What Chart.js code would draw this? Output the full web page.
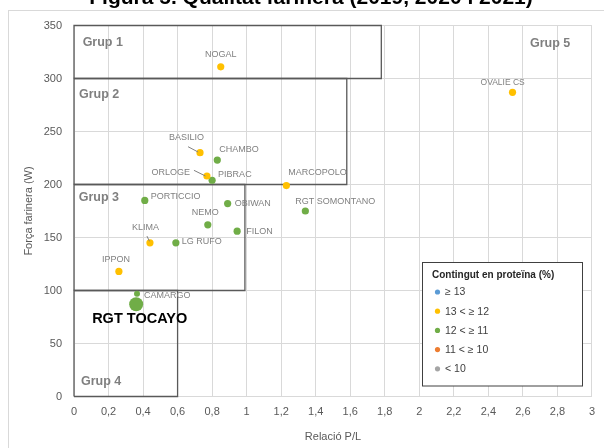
<!DOCTYPE html>
<html><head><meta charset="utf-8">
<script src="https://cdn.jsdelivr.net/npm/chart.js@4/dist/chart.umd.min.js"></script>
<style>html,body{margin:0;padding:0;background:#fff;overflow:hidden}canvas{display:block}</style>
</head><body>
<canvas id="c" width="604" height="448"></canvas>
<script>
// ---- data ----
const chartTitle = 'Figura 5. Qualitat farinera (2019, 2020 i 2021)';
const xAxisTitle = 'Relació P/L';
const yAxisTitle = 'Força farinera (W)';
const legendTitle = 'Contingut en proteïna (%)';
const proteinClasses = ['≥ 13', '13 < ≥ 12', '12 < ≥ 11', '11 < ≥ 10', '< 10'];
const varieties = ['NOGAL','BASILIO','CHAMBO','ORLOGE','PIBRAC','MARCOPOLO','PORTICCIO','OBIWAN','RGT SOMONTANO','NEMO','FILON','KLIMA','LG RUFO','IPPON','CAMARGO','RGT TOCAYO','OVALIE CS'];
const plRatio  = [0.85, 0.73, 0.83, 0.77, 0.80, 1.23, 0.41, 0.89, 1.34, 0.775, 0.945, 0.44, 0.59, 0.26, 0.365, 0.36, 2.54];
const strength = [311, 230, 223, 208, 204, 199, 185, 182, 175, 162, 156, 145, 145, 118, 97, 87, 287];
const proteinClassIdx = [1, 1, 2, 1, 2, 1, 2, 2, 2, 2, 2, 1, 2, 1, 2, 2, 1];
const groupNames = ['Grup 1', 'Grup 2', 'Grup 3', 'Grup 4', 'Grup 5'];
const groupMaxPL = [1.78, 1.58, 0.99, 0.6];
const groupMinW  = [300, 200, 100, 0];
const groupMaxW  = [350, 300, 200, 100];
const xMin = 0, xMax = 3, xStep = 0.2;
const yMin = 0, yMax = 350, yStep = 50;

// ---- styles ----
const classColors = ['#5B9BD5', '#FFC000', '#70AD47', '#ED7D31', '#A5A5A5'];
const FONT = "'Liberation Sans', Arial, sans-serif";
// label placement relative to the point (pixels)
const labelStyle = {
  'NOGAL': {dx: 0, dy: -12, align: 'center'},
  'BASILIO': {dx: -31, dy: -15, align: 'left', leader: [-12, -6, -2, -0.7]},
  'CHAMBO': {dx: 2, dy: -11, align: 'left'},
  'ORLOGE': {dx: -17, dy: -4, align: 'right', leader: [-13, -5.7, -1.5, 0]},
  'PIBRAC': {dx: 6, dy: -6, align: 'left'},
  'MARCOPOLO': {dx: 2, dy: -13, align: 'left'},
  'PORTICCIO': {dx: 6, dy: -4, align: 'left'},
  'OBIWAN': {dx: 7, dy: 0, align: 'left'},
  'RGT SOMONTANO': {dx: -10, dy: -9, align: 'left'},
  'NEMO': {dx: -16, dy: -12, align: 'left'},
  'FILON': {dx: 9, dy: 0, align: 'left'},
  'KLIMA': {dx: -18, dy: -15, align: 'left', leader: [-3, -6.7, -0.5, -1.5]},
  'LG RUFO': {dx: 6, dy: -1, align: 'left'},
  'IPPON': {dx: -17, dy: -12, align: 'left'},
  'CAMARGO': {dx: 7, dy: 2, align: 'left'},
  'RGT TOCAYO': {dx: -44, dy: 15, align: 'left', font: 'bold 14.5px ' + FONT, color: '#000'},
  'OVALIE CS': {dx: -32, dy: -10, align: 'left', font: '8.5px ' + FONT}
};
const groupLabelAt = [[0.05, 334], [0.029, 285], [0.027, 188], [0.04, 14], [2.641, 333]];

// ---- datasets ----
const datasets = [];
groupMaxPL.forEach((mx, i) => {
  datasets.push({
    type: 'scatter', label: groupNames[i], showLine: true,
    data: [{x: 0, y: groupMinW[i]}, {x: mx, y: groupMinW[i]}, {x: mx, y: groupMaxW[i]}, {x: 0, y: groupMaxW[i]}, {x: 0, y: groupMinW[i]}],
    borderColor: '#595959', borderWidth: 1.3, pointRadius: 0, fill: false, clip: false, order: 3, isBox: true
  });
});
proteinClasses.forEach((cls, c) => {
  const pts = [];
  varieties.forEach((v, i) => { if (proteinClassIdx[i] === c) pts.push({x: plRatio[i], y: strength[i], name: v}); });
  datasets.push({
    type: 'scatter', label: cls, data: pts,
    backgroundColor: classColors[c], borderColor: classColors[c], borderWidth: 0,
    pointRadius: ctx => (ctx.raw && ctx.raw.name === 'RGT TOCAYO') ? 7 : (ctx.raw && ctx.raw.name === 'CAMARGO' ? 3 : 3.6),
    order: 1, isClass: true
  });
});

const annot = {
  id: 'annot',
  beforeDraw(chart) {
    const ctx = chart.ctx;
    ctx.save();
    ctx.strokeStyle = '#d9d9d9'; ctx.lineWidth = 1;
    ctx.beginPath(); ctx.moveTo(8, 10.5); ctx.lineTo(604, 10.5);
    ctx.moveTo(8.5, 10); ctx.lineTo(8.5, 448); ctx.stroke();
    ctx.restore();
  },
  afterDatasetsDraw(chart) {
    const ctx = chart.ctx, xs = chart.scales.x, ys = chart.scales.y;
    ctx.save();
    // group labels
    ctx.font = 'bold 12.5px ' + FONT; ctx.fillStyle = '#7f7f7f';
    ctx.textAlign = 'left'; ctx.textBaseline = 'middle';
    groupNames.forEach((g, i) => {
      ctx.fillText(g, xs.getPixelForValue(groupLabelAt[i][0]), ys.getPixelForValue(groupLabelAt[i][1]));
    });
    // data labels
    chart.data.datasets.forEach((ds, di) => {
      if (!ds.isClass) return;
      const meta = chart.getDatasetMeta(di);
      meta.data.forEach((el, j) => {
        const name = ds.data[j].name; const s = labelStyle[name] || {dx: 6, dy: 0, align: 'left'};
        ctx.font = s.font || ('9px ' + FONT);
        ctx.fillStyle = s.color || '#808080';
        ctx.textAlign = s.align; ctx.textBaseline = 'middle';
        ctx.fillText(name, el.x + s.dx, el.y + s.dy);
        if (s.leader) {
          ctx.strokeStyle = '#808080'; ctx.lineWidth = 1;
          ctx.beginPath(); ctx.moveTo(el.x + s.leader[0], el.y + s.leader[1]); ctx.lineTo(el.x + s.leader[2], el.y + s.leader[3]); ctx.stroke();
        }
      });
    });
    ctx.restore();
  },
  afterDraw(chart) {
    const ctx = chart.ctx;
    ctx.save();
    // title (clipped at the top as in the reference)
    ctx.font = 'bold 21px ' + FONT; ctx.fillStyle = '#000'; ctx.textAlign = 'center'; ctx.textBaseline = 'alphabetic';
    ctx.fillText(chartTitle, 311, 4);
    // legend box
    const L = 422.5, T = 262.5, W = 160, H = 123.5;
    ctx.fillStyle = '#fff'; ctx.fillRect(L, T, W, H);
    ctx.strokeStyle = '#404040'; ctx.lineWidth = 1; ctx.strokeRect(L, T, W, H);
    ctx.font = 'bold 10px ' + FONT; ctx.fillStyle = '#262626'; ctx.textAlign = 'left'; ctx.textBaseline = 'middle';
    ctx.fillText(legendTitle, 432, 275);
    const classSets = chart.data.datasets.filter(d => d.isClass);
    classSets.forEach((d, i) => {
      const y = 292 + i * 19.2;
      ctx.fillStyle = d.backgroundColor; ctx.beginPath(); ctx.arc(437.5, y, 2.6, 0, Math.PI * 2); ctx.fill();
      ctx.fillStyle = '#404040'; ctx.font = '10.5px ' + FONT;
      ctx.fillText(d.label, 445, y + 0.5);
    });
    ctx.restore();
  }
};

new Chart(document.getElementById('c'), {
  type: 'scatter',
  data: {datasets},
  options: {
    responsive: false, animation: false, devicePixelRatio: 1,
    layout: {padding: {top: 25.5, right: 10, left: 0, bottom: 0}},
    plugins: {legend: {display: false}, tooltip: {enabled: false}},
    scales: {
      x: {
        type: 'linear', min: xMin, max: xMax,
        afterFit: s => { s.height = 51.5; },
        ticks: {stepSize: xStep, autoSkip: false, maxRotation: 0, padding: 9, color: '#595959', font: {size: 11, family: FONT},
          callback: v => String(Math.round(v * 10) / 10).replace('.', ',')},
        grid: {color: '#d9d9d9', lineWidth: 1, drawTicks: false},
        border: {display: false},
        title: {display: true, text: xAxisTitle, color: '#595959', font: {size: 11, family: FONT}, padding: {top: 0, bottom: 4.7}}
      },
      y: {
        type: 'linear', min: yMin, max: yMax,
        afterFit: s => { s.width = 74; },
        ticks: {stepSize: yStep, padding: 12, color: '#595959', font: {size: 11, family: FONT}},
        grid: {color: '#d9d9d9', lineWidth: 1, drawTicks: false},
        border: {display: false},
        title: {display: true, text: yAxisTitle, color: '#595959', font: {size: 11, family: FONT}, padding: {top: 22.7, bottom: 0}}
      }
    }
  },
  plugins: [annot]
});
</script>
</body></html>
